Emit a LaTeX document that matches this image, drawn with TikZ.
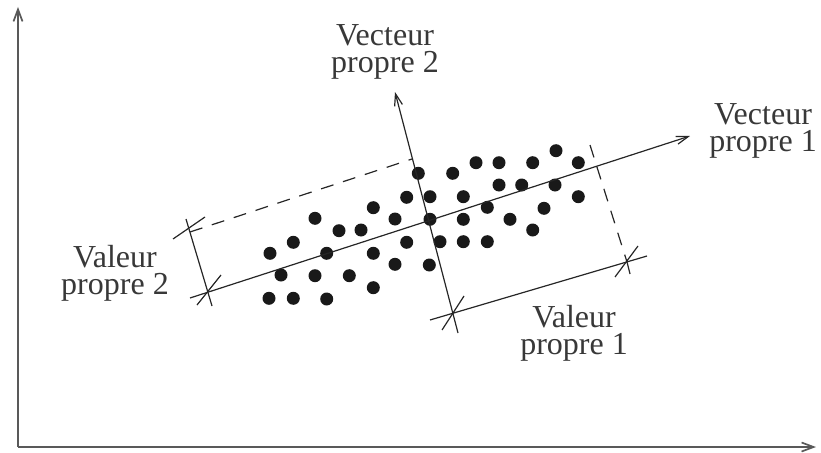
\documentclass[tikz,border=0pt]{standalone}
\usepackage{fontspec}
\setmainfont{Liberation Serif}
\usetikzlibrary{arrows.meta}
\begin{document}
\begin{tikzpicture}[x=1pt,y=-1pt,
  ax/.style={line width=1.7pt, draw=black!65, -{Straight Barb[length=12pt,width=9pt]}},
  vec/.style={line width=1.2pt, draw=black!85, -{Straight Barb[length=12pt,width=8pt]}},
  meas/.style={line width=1.2pt, draw=black!85},
  dsh/.style={line width=1.2pt, draw=black!85, dash pattern=on 13pt off 10pt},
  lbl/.style={font=\fontsize{32}{27}\selectfont, text=black!78, align=center, inner sep=0pt, anchor=north}
]
\useasboundingbox (0,0) rectangle (821,452);
% axes
\coordinate (O) at (18,447);
\coordinate (Ytip) at (18,7);
\coordinate (Xtip) at (816,447);
\draw[ax] (O) -- (Ytip);
\draw[ax] (O) -- (Xtip);
% dots
\foreach \x/\y in {406.7/197.3, 373.3/207.7, 315/218.3, 395/219, 339/230.7, 361/230,
  293.3/242.3, 406.7/242.3, 270/253.3, 326.7/253.3, 373.3/253.3, 395/264.3,
  281/275, 315/275.7, 349.3/275.7, 373.3/287.7, 269/298.3, 293.3/298.3, 326.7/299,
  556/150.7, 476/162.7, 499/162.7, 532.7/162.7, 578.3/162.7, 418.3/173.3, 452.7/173.3,
  499/185, 521.7/185, 555/185, 430/196.7, 463.3/196.7, 578.3/196.7, 487.3/207.3,
  544/208.3, 430/219.3, 463.3/219.3, 510/219.3, 532.7/230, 440/241.7, 463.3/241.7,
  487.3/241.7, 429.3/265}
  \fill[black!90] (\x,\y) circle[radius=6.5pt];
% principal axes
\coordinate (A1s) at (190,298);
\coordinate (A1e) at (690,136);
\coordinate (A2s) at (458,333);
\coordinate (A2e) at (395,92);
\draw[vec] (A1s) -- (A1e);
\draw[vec] (A2s) -- (A2e);
% measurement points
\coordinate (P) at (208,292);
\coordinate (Q) at (190,232);
\coordinate (R) at (627,262);
\coordinate (S) at (453,313);
\coordinate (Pe) at (212,306);
\coordinate (Qe) at (186,219);
\coordinate (Mtop) at (412,159);
\coordinate (Rtop) at (590,145);
\coordinate (Bs) at (430,320);
\coordinate (Be) at (647,256);
% valeur propre 2
\draw[meas] (Qe) -- (Pe);
\draw[dsh] (Q) -- (Mtop);
% valeur propre 1
\draw[meas] (Bs) -- (Be);
\draw[dsh] (Rtop) -- (R);
\draw[meas] (R) -- ++(3,12);
% cross ticks
\draw[meas] (P) ++(-11,13) -- ++(24,-30);
\draw[meas] (Q) ++(-17,7) -- ++(32,-22);
\draw[meas] (S) ++(-11,17) -- ++(22,-34);
\draw[meas] (R) ++(-12,15) -- ++(23,-31);
% labels
\node[lbl] (l1) at (763,103) {Vecteur\\propre 1};
\node[lbl] (l2) at (385,24) {Vecteur\\propre 2};
\node[lbl] (l3) at (115,245) {Valeur\\propre 2};
\node[lbl] (l4) at (574,305) {Valeur\\propre 1};
\end{tikzpicture}
\end{document}
